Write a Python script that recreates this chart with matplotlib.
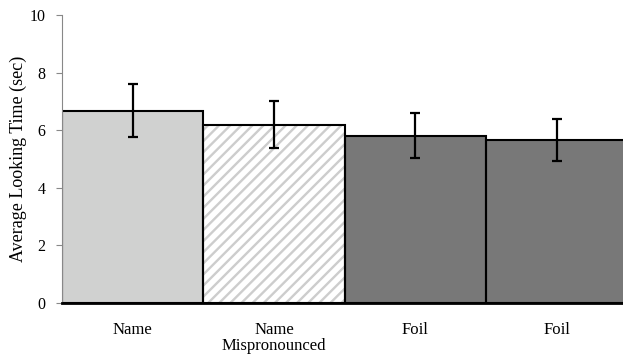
import matplotlib
matplotlib.use("Agg")
import matplotlib.pyplot as plt

# Daten
labels = ["Name", "Name\nMispronounced", "Foil", "Foil"]
means = [6.68, 6.19, 5.81, 5.67]
errors = [0.91, 0.82, 0.79, 0.73]
colors = ["#d0d1d0", "#ffffff", "#787878", "#787878"]
hatches = ["", "///", "", ""]

plt.rcParams["font.family"] = ["Liberation Serif", "DejaVu Serif"]
plt.rcParams["hatch.color"] = "#cdcdcd"
plt.rcParams["hatch.linewidth"] = 1.7

fig = plt.figure(figsize=(6.23, 3.54), dpi=100)
ax = fig.add_axes([62 / 623, 51 / 354, 561 / 623, 288 / 354])

x = [i + 0.5 for i in range(len(means))]

# Fuellung (mit Schraffur) und Rahmen getrennt zeichnen
ax.bar(x, means, width=1.0, color=colors, hatch=hatches, edgecolor="#cdcdcd", linewidth=0)
ax.bar(x, means, width=1.0, fill=False, edgecolor="black", linewidth=1.5)
ax.errorbar(x, means, yerr=errors, fmt="none", ecolor="black", elinewidth=1.6,
            capsize=3.5, capthick=1.6)

ax.set_xlim(0, 561 / 141.3)
ax.set_ylim(0, 10)
ax.set_yticks([0, 2, 4, 6, 8, 10])
ax.set_xticks(x)
ax.set_xticklabels(labels, fontsize=12, va="top", linespacing=1.0)
ax.tick_params(axis="x", length=0, pad=14)
ax.tick_params(axis="y", labelsize=11.5, length=4, width=0.8, color="#888888", pad=8)
ax.set_ylabel("Average Looking Time (sec)", fontsize=13, labelpad=2)

for s in ["top", "right"]:
    ax.spines[s].set_visible(False)
ax.spines["left"].set_color("#888888")
ax.spines["left"].set_linewidth(0.8)
ax.spines["bottom"].set_color("black")
ax.spines["bottom"].set_linewidth(2)

fig.savefig("out.png", dpi=100)
